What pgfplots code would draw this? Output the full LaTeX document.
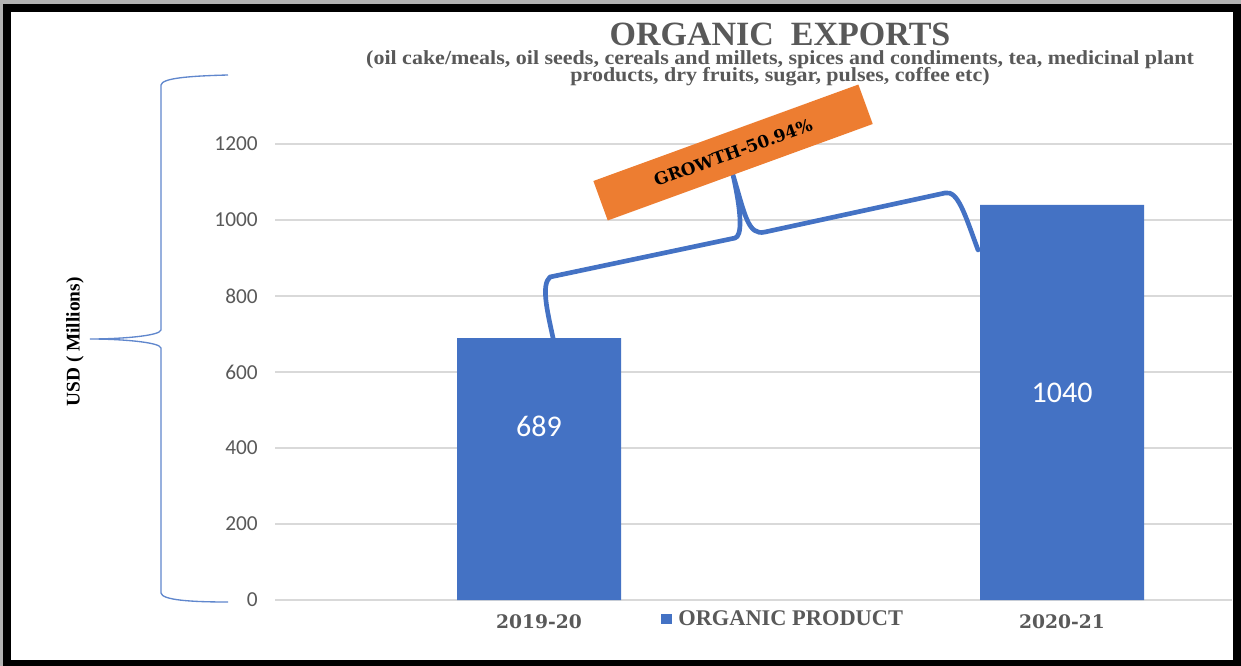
\documentclass[border=0pt]{standalone}
\usepackage{fontspec}
\setmainfont{Liberation Serif}
\newfontfamily\carlito{Carlito}
\newfontfamily\dvs{DejaVu Serif}
\newfontfamily\subfont[FakeStretch=1.1]{Liberation Serif}
\usepackage{pgfplots}
\pgfplotsset{compat=1.18}
\definecolor{barblue}{HTML}{4472C4}
\definecolor{txtgray}{HTML}{595959}
\definecolor{gridgray}{HTML}{D9D9D9}
\definecolor{orng}{HTML}{ED7D31}
\begin{document}
\begin{tikzpicture}
\begin{scope}[x=0.75pt,y=-0.75pt]
\fill[gray!60] (0,0) rectangle (1241,666);
\fill[black] (3,4) rectangle (1241,666);
\fill[white] (11,12) rectangle (1233,660);
\end{scope}
\begin{axis}[
 at={(206.25pt,-450pt)}, anchor=south west,
 scale only axis, width=717.75pt, height=342pt,
 xmin=-0.5048, xmax=1.3250, ymin=0, ymax=1200,
 clip=false,
 axis line style={draw=none}, major tick length=0pt,
 ymajorgrids, grid style={gridgray, line width=1pt},
 xtick={0,1}, xticklabels={2019-20,2020-21},
 ytick={0,200,...,1200},
 /pgf/number format/1000 sep={},
 /pgf/number format/assume math mode=true,
 yticklabel style={font=\carlito\fontsize{16}{16}\selectfont, text=txtgray, anchor=east, inner sep=0pt, xshift=-12.75pt},
 xticklabel style={font=\dvs\bfseries\fontsize{14}{14}\selectfont, text=txtgray, anchor=base, inner sep=0pt, yshift=-21pt},
 legend style={at={(axis description cs:0.531,-0.0417)}, anchor=center, draw=none, fill=none, font=\bfseries\fontsize{16.8}{16.8}\selectfont, text=txtgray, inner sep=0pt},
 legend image code/.code={\fill[barblue] (0pt,-4.1pt) rectangle (8.25pt,4.1pt);},
]
\addplot[ybar, fill=barblue, draw=none, bar width=0.3136] coordinates {(0,689) (1,1040)};
\addlegendentry{\hspace{3pt}ORGANIC PRODUCT}
\node[font=\carlito\fontsize{22.5}{22.5}\selectfont, text=white] at (axis cs:0,457.9) {689};
\node[font=\carlito\fontsize{22.5}{22.5}\selectfont, text=white] at (axis cs:1,544.7) {1040};
\draw[barblue, line width=3.5pt, line join=round, line cap=round]
 (axis cs:0.0268,689.5) .. controls (axis cs:0.0153,763.2) and (axis cs:0.0038,828.9) .. (axis cs:0.0210,850.0)
 -- (axis cs:0.3748,952.6) .. controls (axis cs:0.3881,957.9) and (axis cs:0.3881,1013.2) .. (axis cs:0.3709,1118.4)
 .. controls (axis cs:0.3939,1013.2) and (axis cs:0.3996,957.9) .. (axis cs:0.4321,968.4)
 -- (axis cs:0.7763,1071.1) .. controls (axis cs:0.8011,1078.9) and (axis cs:0.8145,1013.2) .. (axis cs:0.8394,921.1);
\node[fill=orng, rotate=20, minimum width=211.5pt, minimum height=31.5pt, inner sep=0pt, font=\dvs\bfseries\fontsize{12.7}{12.7}\selectfont, text=black] at (axis cs:0.371,1177.6) {GROWTH-50.94\%};
\end{axis}
\begin{scope}[x=0.75pt,y=-0.75pt]
\node[anchor=base, text=txtgray, font=\bfseries\fontsize{25.5}{25.5}\selectfont] at (780,46) {ORGANIC~~EXPORTS};
\node[anchor=base, text=txtgray, font=\subfont\bfseries\fontsize{15}{15}\selectfont] at (780,65) {(oil cake/meals, oil seeds, cereals and millets, spices and condiments, tea, medicinal plant};
\node[anchor=base, text=txtgray, font=\subfont\bfseries\fontsize{15}{15}\selectfont] at (780,82) {products, dry fruits, sugar, pulses, coffee etc)};
\node[rotate=90, font=\bfseries\fontsize{14.5}{14.5}\selectfont] at (75,342) {USD ( Millions)};
\draw[barblue!85, line width=1pt] (228,75) .. controls (190,76) and (162,78) .. (161,85) -- (161,330) .. controls (160,336) and (120,339) .. (90,339) .. controls (120,339) and (160,342) .. (161,348) -- (161,593) .. controls (162,600) and (190,602) .. (228,602);
\end{scope}
\end{tikzpicture}
\end{document}
